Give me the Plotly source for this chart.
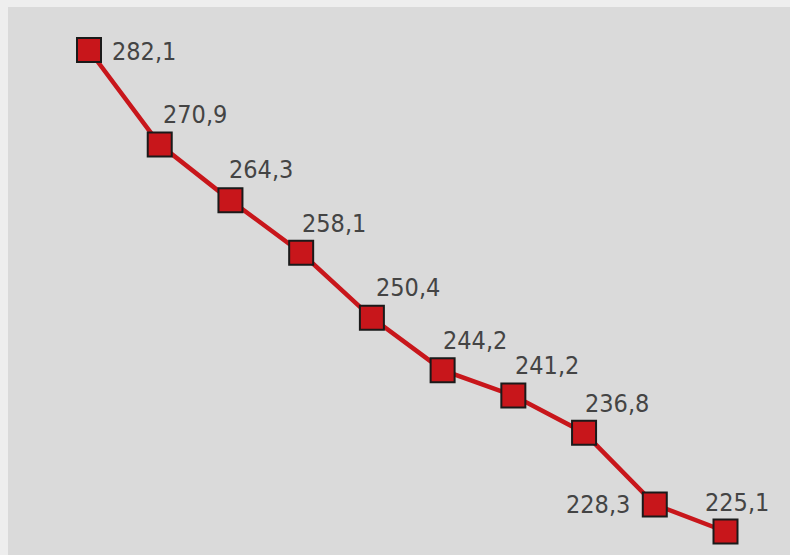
import plotly.graph_objects as go

positions = [1, 2, 3, 4, 5, 6, 7, 8, 9, 10]
values = [282.1, 270.9, 264.3, 258.1, 250.4, 244.2, 241.2, 236.8, 228.3, 225.1]
labels = ["282,1", "270,9", "264,3", "258,1", "250,4", "244,2", "241,2", "236,8", "228,3", "225,1"]
label_dx = [55, 35, 31, 33, 36, 32, 34, 33, -57, 11]
label_dy = [-1, 30, 31, 29, 30, 30, 30, 29, 0, 29]

RED = "#c8161b"

fig = go.Figure()
fig.add_trace(go.Scatter(
    x=positions, y=values, mode="lines+markers",
    line=dict(color=RED, width=4.5),
    marker=dict(symbol="square", size=24, color=RED, line=dict(color="#1a1a1a", width=2)),
    hoverinfo="skip", showlegend=False,
))

for x, y, t, dx, dy in zip(positions, values, labels, label_dx, label_dy):
    fig.add_annotation(x=x, y=y, text=t, showarrow=False, xshift=dx, yshift=dy,
                       font=dict(family="DejaVu Sans Condensed, DejaVu Sans", size=25, color="#444444"))

fig.update_layout(
    width=790, height=555,
    margin=dict(l=8, r=0, t=7, b=0),
    paper_bgcolor="#eeeeee", plot_bgcolor="#dadada",
    xaxis=dict(range=[-0.1454, 10.912], visible=False, showgrid=False, zeroline=False),
    yaxis=dict(range=[222.32, 287.19], visible=False, showgrid=False, zeroline=False),
)

fig.write_html("out.html")
